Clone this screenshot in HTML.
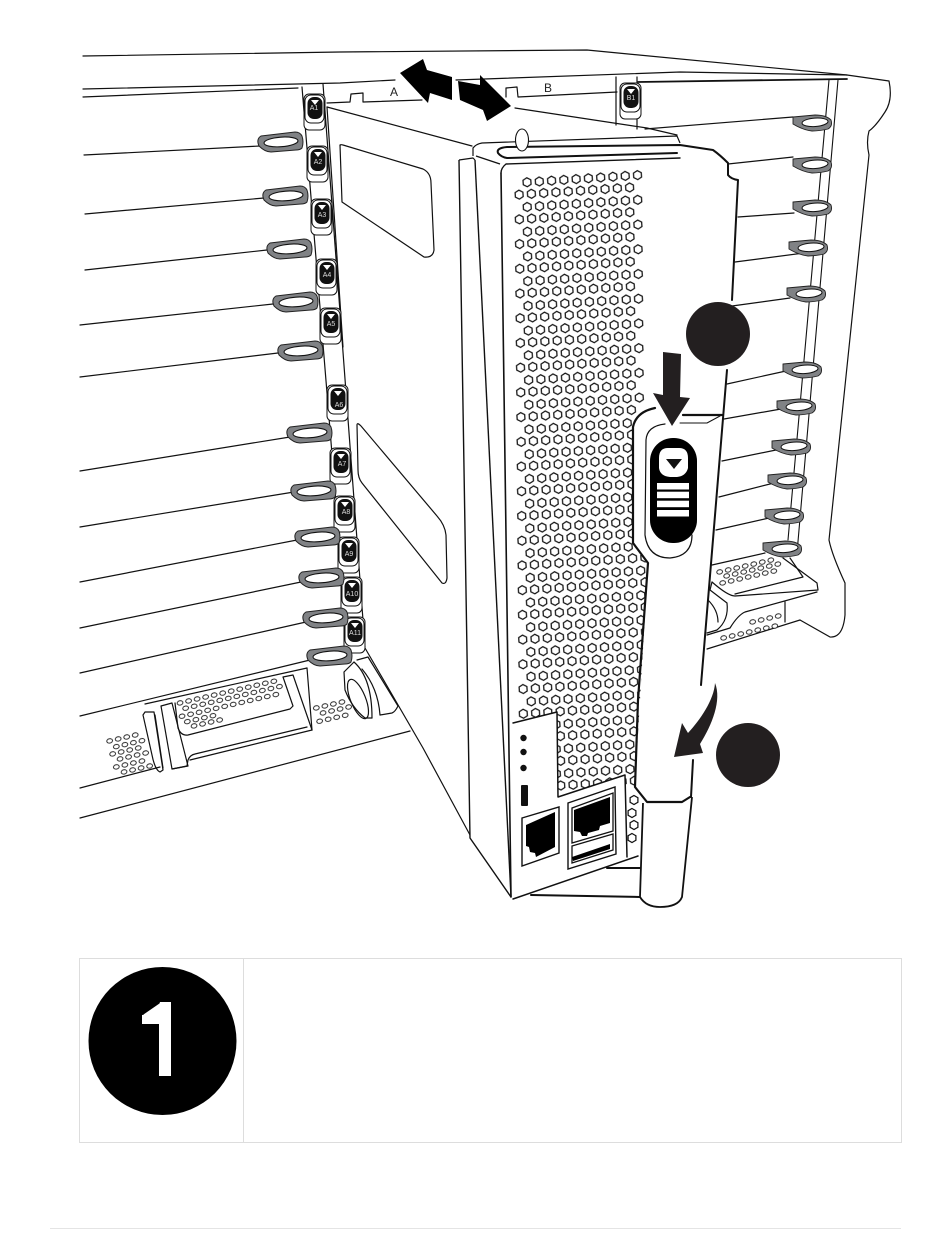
<!DOCTYPE html>
<html><head><meta charset="utf-8"><style>
html,body{margin:0;padding:0;background:#fff;width:950px;height:1248px;overflow:hidden}
svg{display:block}
text{font-family:"Liberation Sans",sans-serif}
</style></head><body>
<svg width="950" height="1248" viewBox="0 0 950 1248" xmlns="http://www.w3.org/2000/svg">
<defs>
<polygon id="hx" points="0,-4.5 3.9,-2.25 3.9,2.25 0,4.5 -3.9,2.25 -3.9,-2.25" fill="#fff" stroke="#111" stroke-width="1.25"/>
<pattern id="hr" width="12.3" height="12.36" patternUnits="userSpaceOnUse">
<polygon points="6.15,1.68 10.05,3.93 10.05,8.43 6.15,10.68 2.25,8.43 2.25,3.93" fill="#fff" stroke="#111" stroke-width="1.25"/>
</pattern>
<pattern id="dr" width="8.75" height="7" patternUnits="userSpaceOnUse">
<ellipse cx="4.37" cy="3.5" rx="2.9" ry="2.2" fill="#fff" stroke="#111" stroke-width=".9"/>
</pattern>
<g id="p">
<rect width="123" height="12.36" fill="url(#hr)" transform="rotate(-3.7)"/>
<rect width="123" height="12.36" fill="url(#hr)" transform="translate(-7.9 12.36) rotate(-3.7)"/>
</g>
<g id="pw">
<rect width="147.6" height="12.36" fill="url(#hr)" transform="rotate(-3.7)"/>
<rect width="147.6" height="12.36" fill="url(#hr)" transform="translate(-7.9 12.36) rotate(-3.7)"/>
</g>
<g id="p5"><use href="#p"/><use href="#p" x=".2" y="24.72"/><use href="#p" x=".4" y="49.44"/><use href="#p" x=".6" y="74.16"/><use href="#p" x=".8" y="98.88"/></g>
<g id="pw5"><use href="#pw"/><use href="#pw" x=".2" y="24.72"/><use href="#pw" x=".4" y="49.44"/><use href="#pw" x=".6" y="74.16"/><use href="#pw" x=".8" y="98.88"/></g>
<g id="latchL">
<path d="M-19,-6 L15,-10 Q20,-10 22,-6 Q24,0 22,6 Q20,8 16,8 L-9,10 Q-15,10 -21,4 Q-24,-3 -19,-6 Z" fill="#808285" stroke="#222" stroke-width="1"/>
<ellipse cx="1" cy="0" rx="17" ry="4.8" transform="rotate(-4)" fill="#fff" stroke="#111" stroke-width="1.1"/>
</g>
<g id="latchR">
<path d="M-19,-5 L3,-7 Q14,-7 19,-2 Q21,4 16,7 Q8,9 0,9 Q-9,8 -19,2 Z" fill="#808285" stroke="#222" stroke-width=".9"/>
<ellipse cx="3" cy="0.5" rx="13" ry="4.2" transform="rotate(-4)" fill="#fff" stroke="#111" stroke-width="1"/>
</g>
<g id="tab">
<rect x="-11" y="-13" width="21" height="36" rx="5" fill="#fff" stroke="#111" stroke-width="1"/>
<rect x="-10" y="-12" width="19" height="28" rx="6" fill="#fff" stroke="#111" stroke-width="1"/>
<rect x="-7.5" y="-10" width="15" height="22" rx="6.5" fill="#111"/>
<polygon points="-4,-7 4,-7 0,-2" fill="#fff"/>
</g>
</defs>

<!-- chassis outline -->
<g fill="none" stroke="#111" stroke-width="1.2" stroke-linecap="round" stroke-linejoin="round">
<path d="M83,56 L340,52 L587,50 L847,75 L889,81 Q893,100 885,112 Q876,126 869,131 Q866,142 869,155 L829,540 Q832,555 845,583 L845,615 Q843,638 830,637 L800,620"/>
<path d="M83,89 L340,83 L395,80"/>
<path d="M83,97 L298,88"/>
<path d="M456,80 L680,72 L847,75"/>
<path d="M638,82 L847,79" stroke-width="1.8"/>
<path d="M327,103 L350,102 L351,94 L363,93 L363,102 L422,100"/>
<path d="M506,97 L506,88 L517,87 L518,97 L617,92"/>
<path d="M616,77 L616,125 M637,77 L637,129"/>
<path d="M829,80 L788,540 M838,80 L797,553" stroke-width="1.1"/>
<path d="M645,129 L793,117 M728,164 L793,157 M738,217 L794,213 M735,262 L804,253 M732,306 L790,298 M727,384 L786,371 M724,419 L781,409 M722,461 L776,450 M719,497 L774,483 M716,530 L769,518"/>
<path d="M84,155 L260,146 M85,214 L264,198 M85,270 L267,250 M80,325 L273,304 M80,377 L278,353 M80,471 L290,437 M80,527 L294,492 M80,582 L297,540 M80,628 L301,582 M80,673 L306,622 M80,716 L310,660"/>
<path d="M145,704 L307,668"/>
<path d="M80,788 L160,767 M80,818 L410,731"/>
<path d="M302,87 L348,650 M323,84 L365,647"/>
<path d="M327,107 L472,146"/>
<path d="M327,107 L343,347"/>
<path d="M515,108 L647,128 L677,135"/>
<path d="M365,648 L423,748 L470,835 L511,897"/>
<path d="M143,715 L145,712 L154,712 L163,770 L160,772 Q155,770 152,755 Z"/>
<path d="M155,715 L163,768 M161,706 L172,703 L188,766 L172,769 L161,706"/>
<path d="M175,703 L178,728 Q181,736 188,735 L290,709 L293,706 L283,677 L293,675 L312,730"/>
<path d="M172,769 L187,766 L188,760 Q190,755 195,754 L307,727"/>
<path d="M190,760 L312,730"/>
<path d="M307,668 L312,730"/>
<path d="M344,672 L354,662 M344,672 L345,690 Q352,708 365,718 L372,718"/>
<path d="M354,662 Q372,678 372,718"/>
<path d="M362,669 Q378,688 380,715"/>
<path d="M357,660 L368,657 L398,706 Q395,712 392,713 L380,715"/>
<ellipse cx="358" cy="699" rx="7.5" ry="21" transform="rotate(-22 358 699)"/>
<path d="M712,565 L765,553 M783,558 L817,583 L818,590 L735,596 Q728,596 712,582"/>
<path d="M790,558 L803,577 L735,594"/>
<path d="M712,582 L710,590 L727,603 Q729,620 717,630 L707,633"/>
<path d="M817,592 L745,612 Q738,615 730,628 L707,635"/>
<path d="M707,649 L800,620"/>
<path d="M785,602 L785,622"/>
<path d="M708,600 Q718,610 718,622"/>
<path d="M340,145 L342,202 L424,257 Q433,258 434,250 L431,183 Q431,173 423,169 L343,145 Q340,144 340,146 Z"/>
<path d="M357,425 Q357,422 361,426 L437,516 Q445,525 446,535 L447,578 Q446,585 442,583 L362,483 Q358,478 358,470 Z"/>
</g>

<!-- small dot clusters -->
<g fill="url(#dr)">
<rect width="35" height="7" transform="translate(104.6 738.5) rotate(-13)"/>
<rect width="35" height="7" transform="translate(111.3 744.2) rotate(-13)"/>
<rect width="35" height="7" transform="translate(107.6 751.5) rotate(-13)"/>
<rect width="35" height="7" transform="translate(115 756.5) rotate(-13)"/>
<rect width="35" height="7" transform="translate(111.3 764.5) rotate(-13)"/>
<rect width="35" height="7" transform="translate(119 769.5) rotate(-13)"/>
<rect width="105" height="7" transform="translate(175 700.5) rotate(-13)"/>
<rect width="105" height="7" transform="translate(180.6 705.8) rotate(-13)"/>
<rect width="105" height="7" transform="translate(177 713.8) rotate(-13)"/>
<rect width="35" height="7" transform="translate(182.3 719.2) rotate(-13)"/>
<rect width="35" height="7" transform="translate(189 723.5) rotate(-13)"/>
<rect width="35" height="7" transform="translate(311.3 705.5) rotate(-13)"/>
<rect width="35" height="7" transform="translate(318 710.5) rotate(-13)"/>
<rect width="35" height="7" transform="translate(314.6 718.8) rotate(-13)"/>
<rect width="61.25" height="7" transform="translate(714.6 569.5) rotate(-13)"/>
<rect width="61.25" height="7" transform="translate(721.6 573.5) rotate(-13)"/>
<rect width="61.25" height="7" transform="translate(717.6 580.5) rotate(-13)"/>
<rect width="61.25" height="7" transform="translate(718.6 635.5) rotate(-13)"/>
<rect width="35" height="7" transform="translate(747.6 619.5) rotate(-13)"/>
</g>

<!-- module body -->
<g stroke="#111" stroke-linejoin="round" fill="none">
<path d="M473,156 L473,148 Q476,144 482,143 L677,136 L679,143 L680,145 L713,150 L728,163 L728,175 L738,180 L708,600 L692,797 L682,897 L660,907 L640,897 L639,858 L512,899 L470,838 L459,160 Z" fill="#fff" stroke="none"/>
<path d="M459,160 L470,838 L511,897" stroke-width="1.4"/>
<path d="M475,160 L511,897" stroke-width="1.4"/>
<path d="M459,160 L473,158 L475,160" stroke-width="1.2"/>
<path d="M473,156 L473,148 Q476,144 482,143 L677,136 L680,143" stroke-width="1.2"/>
<path d="M476,156 L500,164" stroke-width="1.3"/>
</g>

<!-- honeycomb -->
<use href="#p5" x="520.5" y="176.5"/>
<use href="#p5" x="521.5" y="300.1"/>
<use href="#pw5" x="522.5" y="423.7"/>
<use href="#pw5" x="523.5" y="547.3"/>
<use href="#pw5" x="524.5" y="670.9"/>
<polygon points="511,723 557,712 558,797 625,775 627,860 640,860 640,899 513,899" fill="#fff"/>
<use href="#hx" x="634" y="800"/><use href="#hx" x="632" y="813"/><use href="#hx" x="634" y="825"/><use href="#hx" x="632" y="838"/>

<g fill="none" stroke="#111" stroke-linecap="round" stroke-linejoin="round">
<path d="M501,173 L511,897" stroke-width="1.6"/>
<path d="M501,173 Q501,168 506,164 L680,158" stroke-width="1.4"/>
<path d="M507,147 Q496,148 498,153 Q501,157 507,158 L677,153 M507,147 L680,145 L713,150 Q720,155 728,163 L728,175 Q731,179 738,180 L732,300" stroke-width="2"/>
<ellipse cx="522" cy="140" rx="6.5" ry="11" fill="#fff" stroke-width="1.1"/>
<path d="M513,723 L557,712 L558,797 L625,775 L627,857" stroke-width="1.5"/>
<path d="M513,899 L638,856" stroke-width="1.5"/>
<path d="M531,895 L640,897 M607,868 L640,868" stroke-width="2"/>
</g>

<!-- ports -->
<circle cx="523.5" cy="738" r="3.2" fill="#111"/><circle cx="523.5" cy="752" r="3.2" fill="#111"/><circle cx="523.5" cy="768" r="3.2" fill="#111"/>
<rect x="521" y="785" width="7" height="21" rx="1" fill="#111"/>
<polygon points="522,818 559,807 559,853 522,866" fill="#fff" stroke="#111" stroke-width="1.4"/>
<polygon points="526,825 555,812 555,847 536,857 535,853 530,852 529,847 526,846" fill="#000"/>
<polygon points="568,803 615,787 616,854 568,869" fill="#fff" stroke="#111" stroke-width="1.4"/>
<polygon points="572,808 613,793 613,831 572,843" fill="#fff" stroke="#111" stroke-width="1.3"/>
<polygon points="574,810 610,797 610,823 600,826 599,830 588,833 587,836 582,836 580,832 574,831" fill="#000"/>
<polygon points="572,846 613,834 613,850 572,863" fill="#fff" stroke="#111" stroke-width="1.3"/>
<polygon points="572,857 610,844 610,849 573,861" fill="#000"/>

<!-- handle -->
<path d="M655,408 Q636,412 633,427 L633,543 L648,565 L640,700 L635,787 L647,802 L682,802 L692,797 L722,415 Z" fill="#fff"/>
<path d="M643,803 L640,897 Q646,907 660,907 Q678,907 682,897 L692,797" fill="#fff" stroke="#111" stroke-width="1.8"/>
<g fill="none" stroke="#111" stroke-linecap="round" stroke-linejoin="round">
<path d="M655,408 Q636,412 633,427 L633,543 L648,563 L638,700 L635,787 L647,802 L682,802 L690,797" stroke-width="2.2"/>
<path d="M683,415 L722,415" stroke-width="2.2"/>
<path d="M680,423 L707,423 L720,416" stroke-width="1"/>
<path d="M665,424 Q647,426 646,440 L645,535 Q648,558 670,558 Q692,556 692,535" stroke-width="1.2"/>
<path d="M727,370 L708,600 L701,685" stroke-width="2"/>
<path d="M693,760 L691,797" stroke-width="2"/>
</g>
<rect x="650" y="438" width="47" height="105" rx="23" fill="#000"/>
<path d="M659,458 Q659,448 668,448 L679,448 Q688,448 688,458 L688,468 Q686,476 677,477 L670,477 Q660,476 659,468 Z" fill="#fff"/>
<polygon points="666,459 682,459 674,469" fill="#111"/>
<rect x="657" y="483" width="32" height="6.5" fill="#fff"/><rect x="657" y="491.7" width="32" height="6.5" fill="#fff"/><rect x="657" y="500.7" width="32" height="6.5" fill="#fff"/><rect x="657" y="510" width="32" height="6.5" fill="#fff"/>

<!-- tabs -->
<g font-size="7" fill="#ddd" text-anchor="middle">
<use href="#tab" x="315" y="107"/><text x="314" y="110">A1</text>
<use href="#tab" x="318" y="159"/><text x="318" y="164">A2</text>
<use href="#tab" x="322" y="212"/><text x="322" y="217">A3</text>
<use href="#tab" x="327" y="272"/><text x="327" y="277">A4</text>
<use href="#tab" x="331" y="321"/><text x="331" y="326">A5</text>
<use href="#tab" x="338" y="398"/><text x="339" y="407">A6</text>
<use href="#tab" x="341" y="461"/><text x="342" y="466">A7</text>
<use href="#tab" x="345" y="509"/><text x="346" y="514">A8</text>
<use href="#tab" x="349" y="550"/><text x="349" y="556">A9</text>
<use href="#tab" x="352" y="590"/><text x="352" y="596">A10</text>
<use href="#tab" x="355" y="630"/><text x="355" y="635">A11</text>
<use href="#tab" x="631" y="96"/><text x="631" y="100">B1</text>
</g>

<!-- latches -->
<use href="#latchL" x="280" y="142"/><use href="#latchL" x="285" y="196"/><use href="#latchL" x="289" y="249"/><use href="#latchL" x="295" y="302"/><use href="#latchL" x="300" y="351"/><use href="#latchL" x="309" y="433"/><use href="#latchL" x="313" y="491"/><use href="#latchL" x="317" y="537"/><use href="#latchL" x="321" y="578"/><use href="#latchL" x="325" y="618"/><use href="#latchL" x="329" y="656"/>
<use href="#latchR" x="812" y="122"/><use href="#latchR" x="812" y="164"/><use href="#latchR" x="812" y="207"/><use href="#latchR" x="808" y="247"/><use href="#latchR" x="806" y="293"/><use href="#latchR" x="802" y="369"/><use href="#latchR" x="796" y="406"/><use href="#latchR" x="791" y="446"/><use href="#latchR" x="787" y="480"/><use href="#latchR" x="784" y="515"/><use href="#latchR" x="782" y="548"/>

<!-- labels -->
<text x="390" y="96" font-size="12" fill="#222">A</text>
<text x="544" y="92" font-size="12" fill="#222">B</text>

<!-- arrows and callouts -->
<polygon points="400,73 423,59 427,70 452,77 452,100 430,93 428,103" fill="#000"/>
<polygon points="458,81 480,85 480,75 511,106 487,121 483,110 460,100" fill="#000"/>
<polygon points="663,352 681,354 680,397 690,398 672,426 653,393 663,395" fill="#231f20"/>
<path d="M715,683 C722,700 712,725 700,744 L703,753 L674,757 L682,723 L688,733 C700,720 714,700 715,683 Z" fill="#231f20"/>
<circle cx="718" cy="334" r="32" fill="#231f20"/>
<circle cx="748" cy="755" r="32" fill="#231f20"/>

<!-- table -->
<rect x="79.5" y="958.5" width="822" height="184" fill="#fff" stroke="#ddd" stroke-width="1"/>
<line x1="243.5" y1="958" x2="243.5" y2="1143" stroke="#ddd" stroke-width="1"/>
<circle cx="162.5" cy="1041" r="74" fill="#000"/>
<text x="163" y="1076" font-size="107" fill="#fff" text-anchor="middle">1</text>
<rect x="125" y="1060" width="34" height="22" fill="#000"/><rect x="171" y="1060" width="34" height="22" fill="#000"/>
<path d="M142,1015 Q157,1015 160,1002 L171,1002 L171,1076 L159,1076 L159,1024 L142,1024 Z" fill="#fff"/>
<line x1="50" y1="1228.5" x2="901" y2="1228.5" stroke="#e4e4e4" stroke-width="1"/>
</svg>
</body></html>
